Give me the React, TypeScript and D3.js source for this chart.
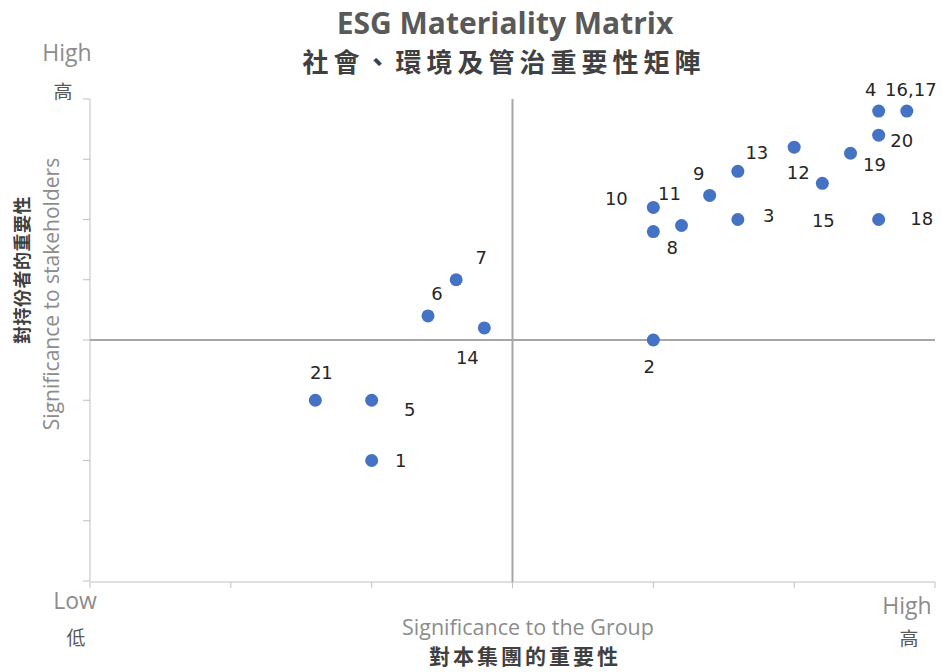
import * as d3 from "d3";

// issue numbers and their scores (x: significance to the group, y: to stakeholders)
const issueLabels = ["1", "2", "3", "4", "5", "6", "7", "8", "9", "10", "11", "12", "13", "14", "15", "16,17", "18", "19", "20", "21"];
const groupScores = [2.0, 4.0, 4.6, 5.6, 2.0, 2.4, 2.6, 4.0, 4.4, 4.0, 4.2, 5.0, 4.6, 2.8, 5.2, 5.8, 5.6, 5.4, 5.6, 1.6];
const stakeholderScores = [2.0, 4.0, 6.0, 7.8, 3.0, 4.4, 5.0, 5.8, 6.4, 6.2, 5.9, 7.2, 6.8, 4.2, 6.6, 7.8, 6.0, 7.1, 7.4, 3.0];

const xTicks = [0, 1, 2, 3, 4, 5, 6];
const yTicks = [0, 1, 2, 3, 4, 5, 6, 7, 8];

// label placement around each dot (pixels), like hand-moved Excel data labels
const labelOffsets: [number, number][] = [
  [29, 0], [-4, 27], [31, -4], [-8, -22], [38, 9], [9, -22], [25, -22], [19, 16], [-11, -22], [-37, -9],
  [-12, -32], [4, 25], [19, -19], [-17, 30], [1, 37], [4, -22], [43, -1], [24, 11], [23, 5], [6, -28],
];

const width = 942;
const height = 672;
const marginLeft = 90;
const marginRight = 7;
const marginTop = 99;
const marginBottom = 91;

const latin = "'Open Sans', 'Liberation Sans', sans-serif";
const cjk = "'Noto Sans CJK TC', sans-serif";
const labelFont = "'DejaVu Sans', Verdana, sans-serif";

function App() {
  const x = d3
    .scaleLinear()
    .domain([0, 6])
    .range([marginLeft, width - marginRight]);
  const y = d3
    .scaleLinear()
    .domain([0, 8])
    .range([height - marginBottom, marginTop]);

  const data = issueLabels.map((label, i) => ({
    label,
    gx: groupScores[i],
    sy: stakeholderScores[i],
    off: labelOffsets[i],
  }));

  const axisColor = "#bfbfbf";
  const midColor = "#a6a6a6";

  return (
    <svg
      width={width}
      height={height}
      style={{ position: "absolute", left: 0, top: 0, background: "#fff" }}
    >
      {/* titles */}
      <text x={505} y={34} textAnchor="middle" fontFamily={latin} fontWeight={700} fontSize={30} fill="#595959">
        ESG Materiality Matrix
      </text>
      <text x={504} y={72} textAnchor="middle" fontFamily={cjk} fontWeight={700} fontSize={26} letterSpacing={5} fill="#404040">
        社會、環境及管治重要性矩陣
      </text>

      {/* axes */}
      <g stroke={axisColor} strokeWidth={1} fill="none">
        <line x1={x(0)} x2={x(0)} y1={y(8)} y2={y(0)} />
        {yTicks.map((t) => (
          <line key={"yt" + t} x1={x(0) - 7} x2={x(0)} y1={y(t)} y2={y(t)} />
        ))}
        <line x1={x(0)} x2={x(6)} y1={y(0) + 1} y2={y(0) + 1} />
        {xTicks.map((t) => (
          <line key={"xt" + t} x1={x(t)} x2={x(t)} y1={y(0) + 1} y2={y(0) + 7} />
        ))}
      </g>

      {/* quadrant lines */}
      <g stroke={midColor} strokeWidth={2}>
        <line x1={x(3)} x2={x(3)} y1={y(8)} y2={y(0) + 1} />
        <line x1={x(0)} x2={x(6)} y1={y(4)} y2={y(4)} />
      </g>

      {/* low/high markers */}
      <text x={67} y={61} textAnchor="middle" fontFamily={latin} fontSize={23} fill="#8c8c8c">High</text>
      <text x={63} y={99} textAnchor="middle" fontFamily={cjk} fontSize={19} fill="#595959">高</text>
      <text x={75} y={609} textAnchor="middle" fontFamily={latin} fontSize={23} fill="#8c8c8c">Low</text>
      <text x={76} y={645} textAnchor="middle" fontFamily={cjk} fontSize={19} fill="#595959">低</text>
      <text x={907} y={614} textAnchor="middle" fontFamily={latin} fontSize={23} fill="#8c8c8c">High</text>
      <text x={909} y={646} textAnchor="middle" fontFamily={cjk} fontSize={19} fill="#595959">高</text>

      {/* axis titles */}
      <text x={528} y={635} textAnchor="middle" fontFamily={latin} fontSize={21.5} fill="#8c8c8c">
        Significance to the Group
      </text>
      <text x={525} y={664} textAnchor="middle" fontFamily={cjk} fontWeight={700} fontSize={21} letterSpacing={3} fill="#404040">
        對本集團的重要性
      </text>
      <text
        transform="translate(59,294) rotate(-90)"
        textAnchor="middle"
        fontFamily={latin}
        fontSize={21}
        fill="#8c8c8c"
      >
        Significance to stakeholders
      </text>
      <text
        transform="translate(29,270) rotate(-90)"
        textAnchor="middle"
        fontFamily={cjk}
        fontWeight={700}
        fontSize={18}
        letterSpacing={0.5}
        fill="#404040"
      >
        對持份者的重要性
      </text>

      {/* points */}
      <g fill="#4472c4">
        {data.map((d) => (
          <circle key={d.label} cx={x(d.gx)} cy={y(d.sy)} r={6.5} />
        ))}
      </g>
      <g fontFamily={labelFont} fontSize={18} fill="#262626" textAnchor="middle">
        {data.map((d) => (
          <text key={d.label} x={x(d.gx) + d.off[0]} y={y(d.sy) + d.off[1]} dy="0.36em">
            {d.label}
          </text>
        ))}
      </g>
    </svg>
  );
}

export default App;
